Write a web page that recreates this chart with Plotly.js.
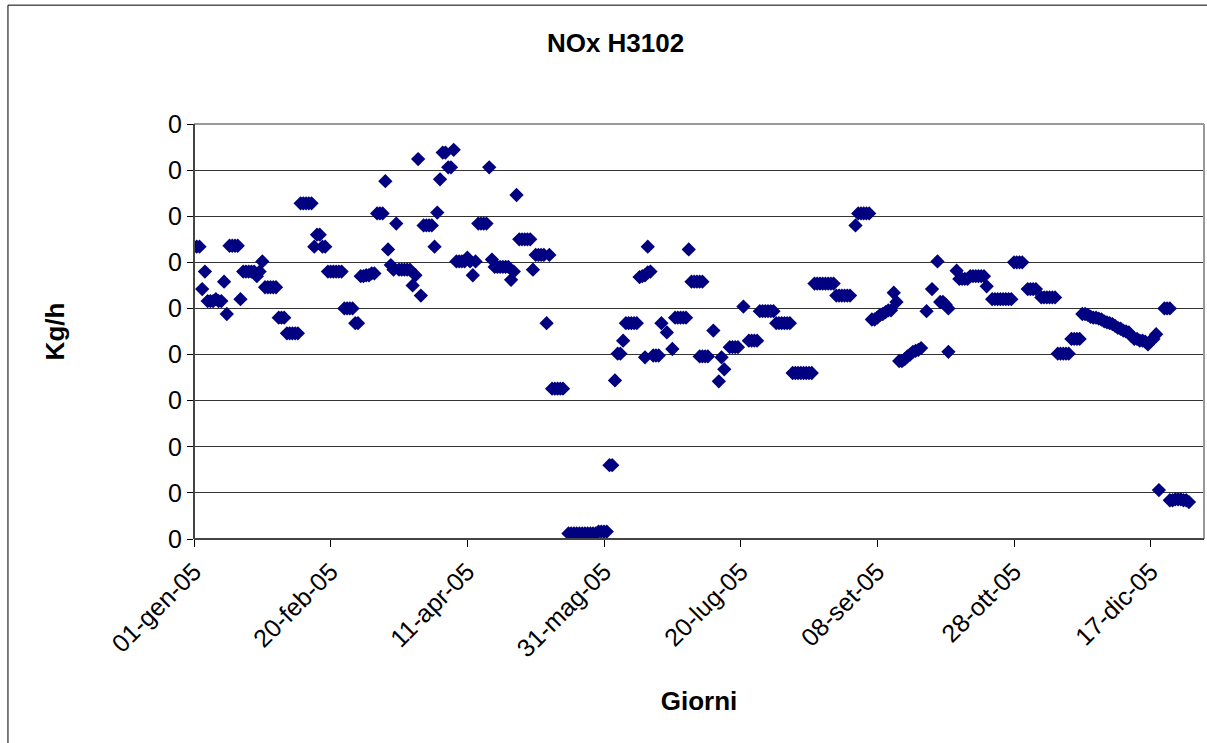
<!DOCTYPE html>
<html>
<head>
<meta charset="utf-8">
<script src="https://cdn.plot.ly/plotly-3.0.1.min.js"></script>
<style>html,body{margin:0;padding:0;background:#fff;}#chart{width:1207px;height:743px;}</style>
</head>
<body>
<div id="chart"></div>
<script>
// Day offsets from 01-gen-05 and NOx values (Kg/h)
const dayOffsets = [
  0,1,2,3,4,5,6,7,8,9,10,11,12,13,14,15,16,17,18,19,20,21,22,23,24,25,26,27,28,29,30,
  31,32,33,34,35,36,37,38,39,40,41,42,43,44,45,46,47,48,49,50,51,52,53,54,55,56,57,58,59,60,
  61,62,63,64,65,66,67,68,69,70,71,72,73,74,75,76,77,78,79,80,81,82,83,84,85,86,87,88,89,90,
  91,92,93,94,95,96,97,98,99,100,101,102,103,104,105,106,107,108,109,110,111,112,113,114,115,116,117,118,119,120,
  121,122,123,124,125,126,127,128,129,130,131,132,133,134,135,
  137,138,139,140,141,142,143,144,145,146,147,148,149,150,151,152,153,154,155,156,157,158,159,160,161,162,
  163,164,165,166,167,166,165,168,169,170,171,173,175,176,177,178,179,180,
  181,182,183,184,185,186,185,186,187,188,190,192,193,194,196,197,198,199,201,203,204,205,206,
  207,208,209,210,211,212,213,214,215,216,217,218,219,220,221,222,223,224,225,226,
  227,228,229,230,231,232,233,234,235,236,237,238,239,240,242,243,244,245,246,247,
  248,249,250,251,252,253,254,255,256,257,258,259,260,261,262,263,264,265,266,268,270,272,
  273,274,275,276,276,279,280,281,282,283,284,285,286,287,288,289,290,
  292,293,294,295,296,297,298,299,300,301,302,303,305,306,307,308,310,311,312,313,314,315,
  316,317,318,319,320,321,322,323,324,
  325,326,327,328,329,330,331,332,333,334,335,336,337,338,339,340,341,342,343,344,345,346,347,348,349,350,351,352,
  353,355,356,357,357,358,359,360,361,362,363,364
];
const noxValues = [
  0.317,0.317,0.317,0.271,0.290,0.258,0.258,0.258,0.260,0.258,0.258,0.279,0.244,0.318,0.318,0.318,0.318,0.260,0.290,0.290,0.290,0.290,0.290,0.285,0.290,0.301,0.273,0.273,0.273,0.273,0.273,
  0.240,0.240,0.240,0.223,0.223,0.223,0.223,0.223,0.364,0.364,0.364,0.364,0.364,0.317,0.330,0.330,0.317,0.317,0.290,0.290,0.290,0.290,0.290,0.290,0.250,0.250,0.250,0.250,0.234,0.234,
  0.285,0.285,0.286,0.286,0.288,0.288,0.353,0.353,0.353,0.388,0.314,0.297,0.292,0.342,0.292,0.292,0.292,0.292,0.292,0.275,0.286,0.412,0.264,0.340,0.340,0.340,0.340,0.317,0.354,0.390,
  0.419,0.419,0.403,0.403,0.422,0.301,0.301,0.301,0.301,0.305,0.301,0.286,0.301,0.342,0.342,0.342,0.342,0.403,0.303,0.295,0.295,0.295,0.295,0.295,0.295,0.281,0.290,0.373,0.325,0.325,
  0.325,0.325,0.325,0.292,0.308,0.308,0.308,0.308,0.234,0.308,0.163,0.163,0.163,0.163,0.163,
  0.006,0.006,0.006,0.006,0.006,0.006,0.006,0.006,0.006,0.006,0.006,0.008,0.008,0.008,0.008,0.080,0.080,0.172,0.201,0.201,0.215,0.234,0.234,0.234,0.234,0.234,
  0.284,0.285,0.286,0.289,0.290,0.317,0.197,0.199,0.199,0.199,0.234,0.224,0.206,0.240,0.240,0.240,0.240,0.240,
  0.314,0.279,0.279,0.279,0.279,0.279,0.198,0.198,0.198,0.198,0.226,0.171,0.197,0.184,0.208,0.208,0.208,0.208,0.252,0.215,0.215,0.215,0.215,
  0.247,0.247,0.247,0.247,0.247,0.247,0.234,0.234,0.234,0.234,0.234,0.234,0.180,0.180,0.180,0.180,0.180,0.180,0.180,0.180,
  0.277,0.277,0.277,0.277,0.277,0.277,0.277,0.277,0.264,0.264,0.264,0.264,0.264,0.264,0.340,0.353,0.353,0.353,0.353,0.353,
  0.238,0.238,0.240,0.243,0.244,0.246,0.248,0.248,0.267,0.257,0.193,0.193,0.195,0.198,0.200,0.203,0.204,0.205,0.207,0.247,0.271,0.301,
  0.257,0.257,0.254,0.250,0.203,0.291,0.282,0.282,0.282,0.282,0.285,0.285,0.285,0.285,0.285,0.285,0.274,
  0.260,0.260,0.260,0.260,0.260,0.260,0.260,0.260,0.300,0.300,0.300,0.300,0.271,0.271,0.271,0.271,0.262,0.262,0.262,0.262,0.262,0.262,
  0.201,0.201,0.201,0.201,0.201,0.217,0.217,0.217,0.217,
  0.244,0.244,0.243,0.241,0.240,0.240,0.239,0.238,0.236,0.235,0.234,0.233,0.231,0.229,0.228,0.226,0.225,0.224,0.220,0.217,0.217,0.215,0.215,0.214,0.211,0.215,0.217,0.222,
  0.053,0.250,0.250,0.250,0.042,0.042,0.043,0.043,0.043,0.042,0.042,0.040
];
const tickDates = ['2005-01-01','2005-02-20','2005-04-11','2005-05-31','2005-07-20','2005-09-08','2005-10-28','2005-12-17'];
const tickLabels = ['01-gen-05','20-feb-05','11-apr-05','31-mag-05','20-lug-05','08-set-05','28-ott-05','17-dic-05'];

const base = Date.UTC(2005, 0, 1);
const xDates = dayOffsets.map(d => new Date(base + d * 864e5).toISOString().slice(0, 10));

const font = 'Liberation Sans, Arial, sans-serif';

const trace = {
  x: xDates, y: noxValues, type: 'scatter', mode: 'markers',
  marker: {symbol: 'diamond', size: 11, color: '#000080', line: {width: 0}},
  hoverinfo: 'x+y', showlegend: false
};

const layout = {
  width: 1207, height: 743,
  margin: {l: 194, r: 3, t: 124, b: 203.5, pad: 0},
  paper_bgcolor: '#ffffff', plot_bgcolor: '#ffffff',
  font: {family: font, color: '#000000', size: 25},
  title: {text: '<b>NOx H3102</b>', font: {family: font, size: 26, color: '#000'},
          x: 0.51, xref: 'container', xanchor: 'center', y: 1 - 43/743, yref: 'container', yanchor: 'middle'},
  xaxis: {
    type: 'date', range: ['2005-01-01', '2006-01-05 12:00'],
    tickmode: 'array', tickvals: tickDates, ticktext: tickLabels, tickangle: -45,
    ticks: 'outside', ticklen: 7, tickwidth: 1, tickcolor: '#000',
    showgrid: false, zeroline: false, showline: false,
    tickfont: {family: font, size: 25, color: '#000'},
    title: {text: '<b>Giorni</b>', font: {family: font, size: 26, color: '#000'}, standoff: 30}
  },
  yaxis: {
    range: [0, 0.45], tick0: 0, dtick: 0.05, tickformat: '.0f',
    ticks: 'outside', ticklen: 6, tickwidth: 1, tickcolor: '#000',
    showgrid: true, gridcolor: '#333333', gridwidth: 1, zeroline: false, showline: false,
    tickfont: {family: font, size: 25, color: '#000'},
    title: {text: '<b>Kg/h</b>', font: {family: font, size: 26, color: '#000'}, standoff: 95}
  },
  shapes: [
    {type: 'rect', xref: 'paper', yref: 'paper', x0: -0.1842, x1: 1.0178, y0: -0.531, y1: 1.2864,
     line: {color: '#000', width: 1}, layer: 'below'},
    {type: 'line', xref: 'paper', yref: 'paper', x0: 0, x1: 1, y0: 1, y1: 1, line: {color: '#999', width: 2}, layer: 'above'},
    {type: 'line', xref: 'paper', yref: 'paper', x0: 1, x1: 1, y0: 0, y1: 1, line: {color: '#999', width: 2}, layer: 'above'},
    {type: 'line', xref: 'paper', yref: 'paper', x0: 0, x1: 0, y0: 0, y1: 1, line: {color: '#444', width: 2}, layer: 'above'},
    {type: 'line', xref: 'paper', yref: 'paper', x0: 0, x1: 1, y0: 0, y1: 0, line: {color: '#444', width: 2}, layer: 'above'}
  ]
};

Plotly.newPlot('chart', [trace], layout, {displayModeBar: false, staticPlot: true});
</script>
</body>
</html>
